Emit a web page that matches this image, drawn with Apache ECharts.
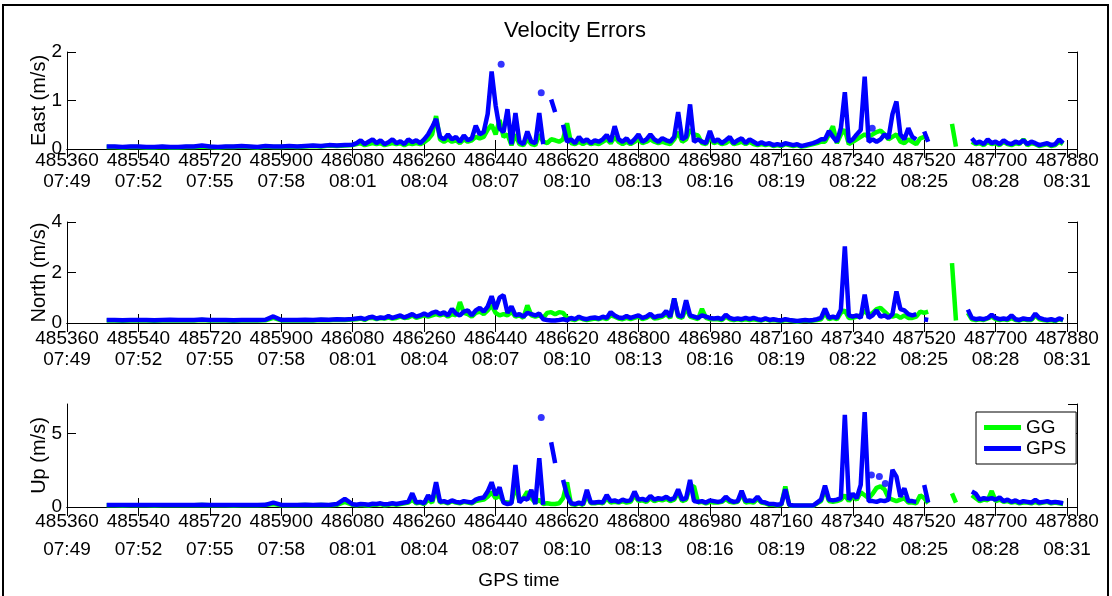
<!DOCTYPE html>
<html><head><meta charset="utf-8">
<script src="https://cdn.jsdelivr.net/npm/echarts@6/dist/echarts.min.js"></script>
<style>html,body{margin:0;padding:0;background:#fff}#c{width:1112px;height:596px}</style>
</head><body><div id="c"></div>
<script>
// GPS seconds of week (sample times)
const times = [
485460,485480,485500,485520,485540,485560,485580,485600,485620,485640,
485660,485680,485700,485720,485740,485760,485780,485800,485820,485840,
485860,485880,485900,485920,485940,485960,485980,486000,486020,486040,
486060,486080,
486090,486100,486110,486120,486130,486140,486150,486160,486170,486180,
486190,486200,486210,486220,486230,486240,486250,486260,486270,486280,
486290,486300,486310,486320,486330,486340,486350,486360,486370,486380,
486390,486400,486410,486420,486430,486440,486450,486460,486470,486480,
486490,486500,486510,486520,486530,486540,486550,486560,486570,486580,
486590,486600,486610,486620,486630,486640,486650,486660,486670,486680,
486690,486700,486710,486720,486730,486740,486750,486760,486770,486780,
486790,486800,486810,486820,486830,486840,486850,486860,486870,486880,
486890,486900,486910,486920,486930,486940,486950,486960,486970,486980,
486990,487000,487010,487020,487030,487040,487050,487060,487070,487080,
487090,487100,487110,487120,487130,487140,487150,487160,487170,487180,
487190,487200,487210,487220,487230,487240,487250,487260,487270,487280,
487290,487300,487310,487320,487330,487340,487350,487360,487370,487380,
487390,487400,487410,487420,487430,487440,487450,487460,487470,487480,
487490,487500,487510,487520,487530,487540,487550,487560,487570,487580,
487590,487600,487610,487620,487630,487640,487650,487660,487670,487680,
487690,487700,487710,487720,487730,487740,487750,487760,487770,487780,
487790,487800,487810,487820,487830,487840,487850,487860,487870,487880
];

const tickSecs = [485360,485540,485720,485900,486080,486260,486440,486620,486800,486980,487160,487340,487520,487700,487880];
const tickTimes = ['07:49','07:52','07:55','07:58','08:01','08:04','08:07','08:10','08:13','08:16','08:19','08:22','08:25','08:28','08:31'];

const eastGG = [
0.04,0.04,0.03,0.04,0.04,0.03,0.03,0.04,0.03,0.03,0.04,0.04,0.05,0.04,0.03,0.04,0.04,0.05,0.04,0.03,0.05,0.04,0.04,0.05,0.04,0.05,0.06,0.05,0.07,0.06,0.07,0.08,
0.1,0.12,0.08,0.1,0.12,0.1,0.12,0.08,0.1,0.12,
0.1,0.12,0.08,0.12,0.1,0.12,0.1,0.14,0.2,0.3,
0.68,0.2,0.15,0.2,0.15,0.18,0.12,0.2,0.15,0.18,
0.25,0.22,0.25,0.4,0.5,0.3,0.6,0.25,0.3,0.08,
0.3,0.1,0.08,0.2,0.1,0.08,0.3,0.15,0.12,0.2,
0.18,0.15,0.2,0.53,0.12,0.1,0.15,0.1,0.15,0.1,
0.12,0.1,0.15,0.2,0.12,0.25,0.15,0.1,0.15,0.1,
0.15,0.2,0.12,0.15,0.2,0.15,0.12,0.15,0.12,0.1,
0.2,0.35,0.15,0.2,0.4,0.3,0.28,0.12,0.1,0.25,
0.12,0.15,0.1,0.12,0.18,0.1,0.12,0.15,0.1,0.15,
0.1,0.08,0.1,0.08,0.1,0.06,0.08,0.06,0.1,0.08,
0.06,0.08,0.05,0.06,0.08,0.1,0.12,0.15,0.15,0.3,
0.47,0.12,0.3,0.4,0.1,0.15,0.2,0.25,0.3,0.25,
0.3,0.35,0.38,0.3,0.2,0.25,0.3,0.15,0.12,0.2,
0.15,0.1,0.22,0.25,0.2,null,null,null,null,null,
0.52,0.05,null,null,null,0.15,0.1,0.12,0.08,0.15,
0.1,0.12,0.08,0.15,0.1,0.08,0.12,0.1,0.2,0.08,
0.12,0.1,0.06,0.08,0.1,0.06,0.08,0.15,0.1,null
];
const eastGPS = [
0.05,0.05,0.04,0.05,0.05,0.04,0.04,0.05,0.04,0.04,0.05,0.05,0.07,0.05,0.04,0.05,0.05,0.06,0.05,0.04,0.06,0.05,0.05,0.06,0.05,0.06,0.07,0.06,0.08,0.07,0.08,0.09,
0.12,0.18,0.1,0.15,0.2,0.12,0.18,0.1,0.14,0.2,
0.12,0.16,0.1,0.2,0.14,0.18,0.12,0.2,0.3,0.45,
0.62,0.25,0.2,0.3,0.2,0.25,0.15,0.28,0.18,0.22,
0.48,0.3,0.35,0.72,1.6,0.9,0.42,0.35,0.82,0.1,
0.74,0.15,0.1,0.36,0.15,0.12,0.74,0.1,null,1.02,
0.76,null,0.5,0.15,0.2,0.12,0.25,0.15,0.2,0.12,
0.18,0.15,0.2,0.29,0.15,0.47,0.2,0.15,0.22,0.12,
0.2,0.3,0.15,0.2,0.3,0.2,0.15,0.22,0.18,0.15,
0.25,0.76,0.2,0.25,0.92,0.15,0.2,0.15,0.12,0.37,
0.15,0.2,0.12,0.18,0.25,0.12,0.18,0.22,0.12,0.2,
0.15,0.1,0.14,0.1,0.12,0.08,0.1,0.08,0.12,0.1,
0.08,0.1,0.06,0.08,0.1,0.12,0.15,0.2,0.2,0.37,
0.25,0.15,0.43,1.17,0.15,0.2,0.3,0.39,1.49,0.15,
0.2,0.15,0.2,0.3,0.22,0.72,0.98,0.3,0.2,0.43,
0.25,0.2,null,0.36,0.15,null,null,null,null,null,
null,null,null,null,null,0.22,0.12,0.15,0.1,0.2,
0.12,0.15,0.1,0.18,0.12,0.1,0.15,0.12,0.18,0.1,
0.15,0.12,0.08,0.1,0.12,0.08,0.1,0.2,0.12,null
];
const eastGPSDots = [[486454,1.75],[486555,1.16],[487389,0.43]];

const northGG = [
0.1,0.1,0.09,0.1,0.1,0.1,0.09,0.1,0.11,0.1,0.1,0.1,0.12,0.1,0.1,0.1,0.09,0.1,0.1,0.1,0.11,0.2,0.1,0.1,0.1,0.11,0.1,0.12,0.11,0.13,0.12,0.14,
0.15,0.18,0.12,0.2,0.2,0.15,0.2,0.18,0.22,0.18,
0.2,0.25,0.2,0.22,0.3,0.2,0.25,0.3,0.25,0.3,
0.35,0.3,0.35,0.25,0.35,0.3,0.83,0.4,0.35,0.25,
0.4,0.45,0.35,0.5,0.7,0.4,0.3,0.35,0.3,0.45,
0.25,0.3,0.2,0.7,0.3,0.25,0.3,0.2,0.4,0.43,
0.35,0.43,0.4,0.2,0.15,0.12,0.2,0.15,0.12,0.15,
0.18,0.15,0.2,0.15,0.3,0.25,0.18,0.15,0.2,0.15,
0.2,0.25,0.15,0.2,0.3,0.18,0.2,0.25,0.35,0.2,
0.97,0.25,0.2,0.6,0.25,0.2,0.15,0.56,0.2,0.15,
0.15,0.15,0.12,0.25,0.15,0.12,0.15,0.12,0.15,0.12,
0.15,0.12,0.1,0.15,0.1,0.12,0.1,0.08,0.12,0.1,
0.08,0.06,0.08,0.1,0.08,0.1,0.12,0.15,0.4,0.15,
0.2,0.15,0.4,0.5,0.2,0.2,0.25,0.3,0.5,0.3,
0.4,0.55,0.6,0.45,0.3,0.25,0.3,0.2,0.3,0.2,
0.2,0.25,0.45,0.4,0.45,null,null,null,null,null,
2.37,0.1,null,null,0.4,0.15,0.12,0.15,0.12,0.18,
0.25,0.15,0.12,0.15,0.12,0.2,0.12,0.1,0.15,0.12,
0.12,0.3,0.15,0.12,0.1,0.12,0.08,0.15,0.1,null
];
const northGPS = [
0.12,0.12,0.11,0.12,0.12,0.12,0.11,0.12,0.13,0.12,0.12,0.12,0.14,0.12,0.12,0.12,0.11,0.12,0.12,0.12,0.13,0.26,0.12,0.12,0.12,0.13,0.12,0.14,0.13,0.15,0.14,0.16,
0.18,0.2,0.15,0.22,0.25,0.18,0.22,0.2,0.28,0.2,
0.25,0.3,0.22,0.28,0.35,0.25,0.3,0.38,0.3,0.4,
0.45,0.35,0.42,0.3,0.56,0.38,0.3,0.45,0.5,0.3,
0.5,0.6,0.45,0.65,1.06,0.55,1.0,1.1,0.4,0.66,
0.3,0.35,0.25,0.4,0.35,0.3,0.38,0.15,0.12,0.1,
0.1,0.12,0.15,0.1,0.2,0.15,0.25,0.18,0.15,0.2,
0.22,0.18,0.25,0.2,0.43,0.3,0.22,0.2,0.28,0.2,
0.25,0.3,0.2,0.25,0.36,0.22,0.28,0.3,0.47,0.25,
0.97,0.3,0.25,0.9,0.3,0.25,0.2,0.3,0.25,0.2,
0.18,0.2,0.15,0.33,0.2,0.15,0.18,0.15,0.2,0.15,
0.2,0.15,0.12,0.18,0.12,0.15,0.12,0.1,0.15,0.12,
0.1,0.08,0.1,0.12,0.1,0.12,0.15,0.2,0.57,0.2,
0.25,0.2,0.53,3.03,0.3,0.25,0.3,0.2,1.12,0.2,
0.3,0.5,0.25,0.3,0.2,0.35,1.25,0.55,0.5,0.35,
0.3,0.35,null,0.15,0.12,null,null,null,null,null,
null,null,null,null,0.53,0.2,0.15,0.18,0.15,0.2,
0.33,0.2,0.15,0.18,0.15,0.3,0.15,0.12,0.18,0.15,
0.15,0.37,0.2,0.15,0.12,0.15,0.1,0.18,0.12,null
];
const northGPSDots = [];

const upGG = [
0.12,0.12,0.11,0.12,0.12,0.12,0.11,0.12,0.12,0.12,0.12,0.12,0.13,0.12,0.12,0.12,0.11,0.12,0.12,0.12,0.13,0.2,0.12,0.12,0.12,0.13,0.12,0.13,0.12,0.15,0.35,0.15,
0.12,0.15,0.12,0.1,0.15,0.15,0.2,0.12,0.15,0.2,
0.15,0.2,0.25,0.3,0.5,0.25,0.3,0.2,0.5,0.3,
1.2,0.3,0.35,0.25,0.4,0.3,0.25,0.35,0.3,0.25,
0.4,0.45,0.5,0.7,1.0,0.6,0.8,0.35,0.3,0.3,
1.5,0.4,0.6,1.05,0.6,0.3,0.5,0.2,0.25,0.2,
0.2,0.25,0.6,1.68,0.2,0.15,0.25,0.15,0.8,0.25,
0.25,0.3,0.25,0.6,0.3,0.35,0.3,0.4,0.3,0.35,
0.8,0.4,0.45,0.35,0.6,0.4,0.5,0.45,0.55,0.4,
0.5,1.0,0.4,0.5,1.4,1.4,0.3,0.35,0.25,0.35,
0.3,0.3,0.35,0.55,0.35,0.3,0.35,0.9,0.3,0.35,
0.3,0.55,0.3,0.25,0.15,0.15,0.12,0.15,1.4,0.12,
0.08,0.08,0.08,0.08,0.08,0.08,0.25,0.4,1.2,0.4,
0.35,0.4,0.5,0.8,0.4,0.7,0.5,1.0,0.8,0.6,
0.9,1.3,1.4,1.2,0.6,0.5,0.4,0.5,0.6,0.3,
0.3,0.25,0.8,0.6,0.25,null,null,null,null,null,
0.93,0.3,null,null,null,0.8,0.6,0.4,0.5,0.45,
1.09,0.4,0.5,0.35,0.4,0.3,0.35,0.25,0.3,0.3,
0.25,0.35,0.25,0.3,0.35,0.25,0.3,0.25,0.2,null
];
const upGPS = [
0.14,0.14,0.13,0.14,0.14,0.14,0.13,0.14,0.14,0.14,0.14,0.14,0.15,0.14,0.14,0.14,0.13,0.14,0.14,0.14,0.15,0.3,0.14,0.14,0.14,0.15,0.14,0.15,0.14,0.2,0.55,0.18,
0.15,0.2,0.18,0.15,0.22,0.2,0.25,0.18,0.2,0.25,
0.2,0.25,0.3,0.35,0.93,0.3,0.35,0.25,0.8,0.4,
1.68,0.35,0.4,0.3,0.45,0.35,0.3,0.4,0.35,0.3,
0.5,0.6,0.65,1.05,1.68,0.8,1.34,0.3,0.2,0.25,
2.86,0.3,0.6,0.5,1.16,0.2,3.32,0.15,null,4.4,
2.98,null,1.84,0.8,0.25,0.2,0.3,0.2,1.16,0.3,
0.3,0.35,0.3,0.82,0.4,0.45,0.35,0.5,0.4,0.45,
1.05,0.5,0.55,0.45,0.75,0.5,0.6,0.55,0.7,0.5,
0.6,1.2,0.5,0.6,1.84,0.4,0.35,0.4,0.3,0.45,
0.4,0.35,0.4,0.7,0.45,0.35,0.4,1.1,0.4,0.45,
0.4,0.7,0.35,0.3,0.2,0.2,0.15,0.2,1.2,0.15,
0.1,0.1,0.1,0.1,0.1,0.1,0.3,0.5,1.45,0.5,
0.45,0.5,0.6,6.27,0.5,0.9,0.6,1.5,6.45,0.4,
0.4,0.35,0.45,0.4,0.5,2.52,2.07,0.7,1.27,0.4,
0.4,0.35,null,1.5,0.3,null,null,null,null,null,
null,null,null,null,null,1.05,0.9,0.5,0.6,0.55,
0.6,0.5,0.65,0.4,0.5,0.35,0.45,0.3,0.4,0.35,
0.3,0.48,0.3,0.35,0.4,0.3,0.35,0.3,0.25,null
];
const upGPSDots = [[486555,6.09],[487387,2.18],[487407,2.07],[487422,1.6]];

const yNames = ['East (m/s)','North (m/s)','Up (m/s)'];
const yMax = [2,4,7];
const yStep = [1,2,5];

const FONT = '"Liberation Sans", Arial, sans-serif';
const pair = vals => times.map((t,i)=>[t, vals[i]]);
const ggData = [eastGG, northGG, upGG];
const gpsData = [eastGPS, northGPS, upGPS];
const dotData = [eastGPSDots, northGPSDots, upGPSDots];

const grids = [
  {left:67, top:52, width:1010, height:97},
  {left:67, top:222, width:1010, height:101},
  {left:67, top:404, width:1010, height:103}
];
const labLH = [21,21,28];
const labMargin = [1,5,1];
const X_MIN = 485360, X_MAX = 487905;

function fmtX(v){
  const i = tickSecs.findIndex(s=>Math.abs(s-v)<0.5);
  return i<0 ? '' : tickSecs[i] + '\n' + tickTimes[i];
}

const xAxis = [], yAxis = [], series = [];
for (let k=0;k<3;k++){
  xAxis.push({type:'value', gridIndex:k, min:X_MIN, max:X_MAX, interval:180, position:'bottom',
    axisLine:{show:true, lineStyle:{color:'#000', width:1}},
    axisTick:{show:true, inside:true, length:9, lineStyle:{color:'#000'}},
    splitLine:{show:false},
    axisLabel:{formatter:fmtX, color:'#000', fontSize:19, fontFamily:FONT, lineHeight:labLH[k], margin:labMargin[k], showMaxLabel:true, hideOverlap:false}
  });
  yAxis.push({type:'value', gridIndex:k, min:0, max:yMax[k], interval:yStep[k],
    name:yNames[k], nameLocation:'middle', nameGap:18, nameRotate:90, nameMoveOverlap:false,
    nameTextStyle:{color:'#000', fontSize:20, fontFamily:FONT},
    axisLine:{show:true, lineStyle:{color:'#000', width:1}},
    axisTick:{show:true, inside:true, length:9, lineStyle:{color:'#000'}},
    splitLine:{show:false},
    axisLabel:{color:'#000', fontSize:19, fontFamily:FONT, margin:5, showMaxLabel: k<2, formatter: v => (v % yStep[k] === 0 ? String(v) : '')}
  });
}
for (let k=0;k<3;k++){
  xAxis.push({type:'value', gridIndex:k, min:X_MIN, max:X_MAX, interval:180, position:'top',
    axisLine:{show:true, lineStyle:{color:'#000', width:1}},
    axisTick:{show:true, inside:true, length:9, lineStyle:{color:'#000'}},
    splitLine:{show:false}, axisLabel:{show:false}});
  yAxis.push({type:'value', gridIndex:k, min:0, max:yMax[k], interval:yStep[k], position:'right',
    axisLine:{show:true, lineStyle:{color:'#000', width:1}},
    axisTick:{show:true, inside:true, length:9, lineStyle:{color:'#000'}},
    splitLine:{show:false}, axisLabel:{show:false}});
}
for (let k=0;k<3;k++){
  series.push({type:'line', name:'GG', xAxisIndex:k, yAxisIndex:k, data:pair(ggData[k]),
    showSymbol:false, connectNulls:false, silent:true, animation:false,
    lineStyle:{color:'#00ff00', width:4.5}, itemStyle:{color:'#00ff00'}, z:2});
  series.push({type:'line', name:'GPS', xAxisIndex:k, yAxisIndex:k, data:pair(gpsData[k]),
    showSymbol:false, connectNulls:false, silent:true, animation:false,
    lineStyle:{color:'#0000ff', width:4.5}, itemStyle:{color:'#0000ff'}, z:3});
  series.push({type:'scatter', name:'GPS', xAxisIndex:k, yAxisIndex:k, data:dotData[k],
    symbolSize:7, silent:true, animation:false, itemStyle:{color:'#0000ff'}, z:3});
}

const chart = echarts.init(document.getElementById('c'), null, {renderer:'canvas'});
chart.setOption({
  animation:false,
  backgroundColor:'#fff',
  title:{text:'Velocity Errors', left:570, top:15, textAlign:'center',
    textStyle:{fontSize:22, fontWeight:'normal', color:'#000', fontFamily:FONT}},
  grid:grids,
  xAxis, yAxis, series,
  legend:{data:['GG','GPS'], orient:'vertical', left:976, top:412, icon:'rect',
    itemWidth:37, itemHeight:5, itemGap:0, padding:[5,10,5,8],
    borderColor:'#000', borderWidth:1, backgroundColor:'#fff',
    textStyle:{fontSize:19, color:'#000', fontFamily:FONT, lineHeight:21}, selectedMode:false},
  graphic:[
    {type:'rect', shape:{x:3, y:5, width:1105, height:600}, style:{fill:null, stroke:'#000', lineWidth:2}, silent:true},
    {type:'text', x:519, y:581, style:{text:'GPS time', fontSize:19, fontFamily:FONT, fill:'#000', align:'center', verticalAlign:'middle'}, silent:true}
  ]
});
</script>
</body></html>
